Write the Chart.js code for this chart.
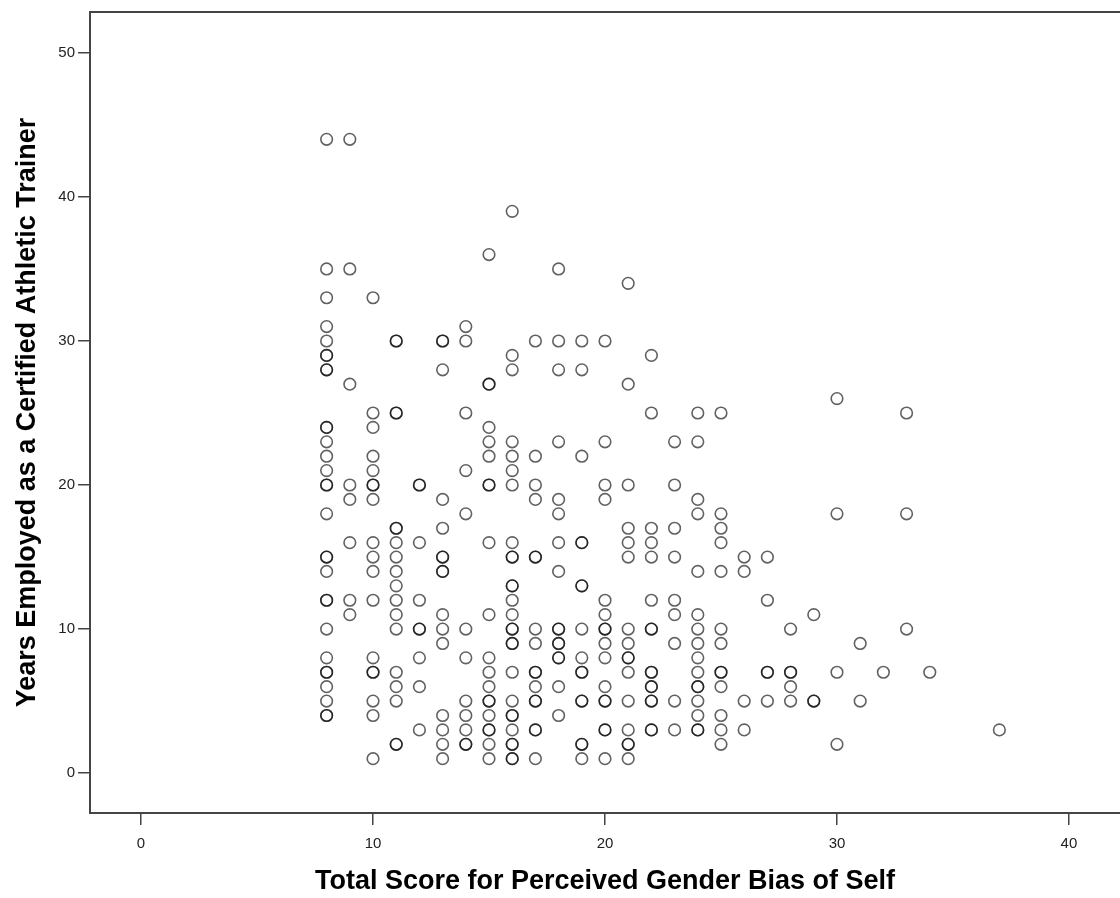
<!DOCTYPE html>
<html>
<head>
<meta charset="utf-8">
<script src="https://cdn.jsdelivr.net/npm/chart.js@4/dist/chart.umd.min.js"></script>
<style>
  html, body { margin: 0; padding: 0; background: #fff; }
  #wrap { width: 1120px; height: 898px; }
</style>
</head>
<body>
<div id="wrap"><canvas id="c" width="1120" height="898"></canvas></div>
<script>
// Total Score for Perceived Gender Bias of Self (x) and Years Employed (y), one entry per respondent
const scoreX = [
  8,8,8,8,8,8,8,8,8,8,8,8,8,8,8,8,8,8,8,8,8,8,8,8,8,8,8,8,8,8,
  9,9,9,9,9,9,9,9,
  10,10,10,10,10,10,10,10,10,10,10,10,10,10,10,10,10,10,
  11,11,11,11,11,11,11,11,11,11,11,11,11,11,11,11,11,11,
  12,12,12,12,12,12,12,12,12,
  13,13,13,13,13,13,13,13,13,13,13,13,13,13,13,13,
  14,14,14,14,14,14,14,14,14,14,14,14,
  15,15,15,15,15,15,15,15,15,15,15,15,15,15,15,15,15,15,15,15,
  16,16,16,16,16,16,16,16,16,16,16,16,16,16,16,16,16,16,16,16,16,16,16,16,16,16,16,
  17,17,17,17,17,17,17,17,17,17,17,17,17,17,17,17,
  18,18,18,18,18,18,18,18,18,18,18,18,18,18,18,18,
  19,19,19,19,19,19,19,19,19,19,19,19,19,19,19,19,
  20,20,20,20,20,20,20,20,20,20,20,20,20,20,20,20,
  21,21,21,21,21,21,21,21,21,21,21,21,21,21,21,21,
  22,22,22,22,22,22,22,22,22,22,22,22,22,22,22,22,
  23,23,23,23,23,23,23,23,23,
  24,24,24,24,24,24,24,24,24,24,24,24,24,24,24,24,
  25,25,25,25,25,25,25,25,25,25,25,25,25,
  26,26,26,26,
  27,27,27,27,27,
  28,28,28,28,28,
  29,29,29,
  30,30,30,30,
  31,31,
  32,
  33,33,33,
  34,
  37
];
const yearsY = [
  44,35,33,31,30,29,29,28,28,24,24,23,22,21,20,20,18,15,15,14,12,12,10,8,7,7,6,5,4,4,
  44,35,27,20,19,16,12,11,
  33,25,24,22,21,20,20,19,16,15,14,12,8,7,7,5,4,1,
  30,30,25,25,17,17,16,15,14,13,12,11,10,7,6,5,2,2,
  20,20,16,12,10,10,8,6,3,
  30,30,28,19,17,15,15,14,14,11,10,9,4,3,2,1,
  31,30,25,21,18,10,8,5,4,3,2,2,
  36,27,27,24,23,22,20,20,16,11,8,7,6,5,5,4,3,3,2,1,
  39,29,28,23,22,21,20,16,15,15,13,13,12,11,10,10,9,9,7,5,4,4,3,2,2,1,1,
  30,22,20,19,15,15,10,9,7,7,6,5,5,3,3,1,
  35,30,28,23,19,18,16,14,10,10,9,9,8,8,6,4,
  30,28,22,16,16,13,13,10,8,7,7,5,5,2,2,1,
  30,23,20,19,12,11,10,10,9,8,6,5,5,3,3,1,
  34,27,20,17,16,15,10,9,8,8,7,5,3,2,2,1,
  29,25,17,16,15,12,10,10,7,7,6,6,5,5,3,3,
  23,20,17,15,12,11,9,5,3,
  25,23,19,18,14,11,10,9,8,7,6,6,5,4,3,3,
  25,18,17,16,14,10,9,7,7,6,4,3,2,
  15,14,5,3,
  15,12,7,7,5,
  10,7,7,6,5,
  11,5,5,
  26,18,7,2,
  9,5,
  7,
  25,18,10,
  7,
  3
];
const xTickValues = [0, 10, 20, 30, 40];
const yTickValues = [0, 10, 20, 30, 40, 50];
const xTitle = 'Total Score for Perceived Gender Bias of Self';
const yTitle = 'Years Employed as a Certified Athletic Trainer';

const points = scoreX.map((x, i) => ({ x: x, y: yearsY[i] }));

const framePlugin = {
  id: 'frame',
  afterDraw(chart) {
    const a = chart.chartArea, ctx = chart.ctx;
    ctx.save();
    ctx.strokeStyle = '#454545';
    ctx.lineWidth = 2;
    ctx.strokeRect(a.left, a.top, a.right - a.left + 4, a.bottom - a.top);
    ctx.restore();
  }
};

new Chart(document.getElementById('c'), {
  type: 'scatter',
  data: {
    datasets: [{
      data: points,
      pointStyle: 'circle',
      pointRadius: 5.8,
      pointHoverRadius: 5.8,
      pointBorderWidth: 1.6,
      borderColor: 'rgba(0,0,0,0.62)',
      backgroundColor: 'rgba(0,0,0,0)'
    }]
  },
  plugins: [framePlugin],
  options: {
    responsive: false,
    animation: false,
    events: [],
    layout: { autoPadding: false, padding: { top: 10, right: 0, left: 0, bottom: 0 } },
    plugins: { legend: { display: false }, tooltip: { enabled: false } },
    scales: {
      x: {
        type: 'linear',
        min: -2.2,
        max: 42.2,
        afterBuildTicks: s => { s.ticks = xTickValues.map(v => ({ value: v })); },
        afterFit: s => { s.height = 85; },
        grid: { drawOnChartArea: false, drawTicks: true, tickLength: 12, color: '#454545', lineWidth: 1.5 },
        border: { display: false },
        ticks: { color: '#222', padding: 10, maxRotation: 0, font: { family: "'Liberation Sans', Arial, sans-serif", size: 15 } },
        title: { display: true, text: xTitle, color: '#000', padding: { top: 0, bottom: 0 },
                 font: { family: "'Liberation Sans', Arial, sans-serif", size: 27, weight: 'bold' } }
      },
      y: {
        type: 'linear',
        min: -2.77,
        max: 52.84,
        afterBuildTicks: s => { s.ticks = yTickValues.map(v => ({ value: v })); },
        afterFit: s => { s.width = 90; },
        grid: { drawOnChartArea: false, drawTicks: true, tickLength: 12, color: '#454545', lineWidth: 1.5 },
        border: { display: false },
        ticks: { color: '#222', padding: 3, font: { family: "'Liberation Sans', Arial, sans-serif", size: 15 } },
        title: { display: true, text: yTitle, color: '#000', padding: { top: 11, bottom: 0 },
                 font: { family: "'Liberation Sans', Arial, sans-serif", size: 27, weight: 'bold' } }
      }
    }
  }
});
</script>
</body>
</html>
